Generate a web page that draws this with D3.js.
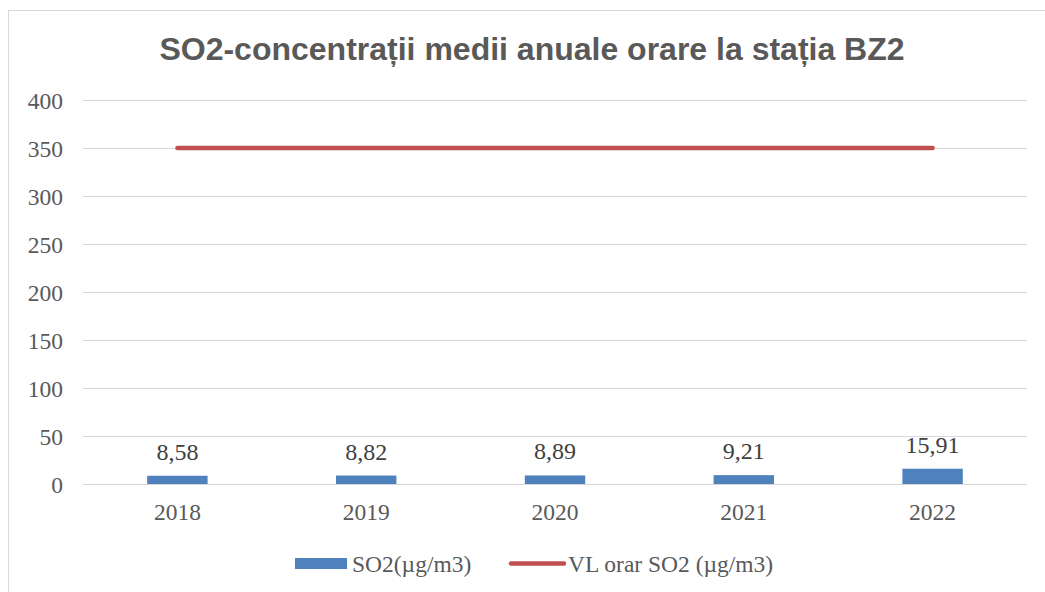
<!DOCTYPE html>
<html><head><meta charset="utf-8">
<script src="https://cdn.jsdelivr.net/npm/d3@7"></script>
<style>body{margin:0;background:#fff}</style>
</head><body>
<script>
const categories = ["2018","2019","2020","2021","2022"];
const so2Values = [8.58, 8.82, 8.89, 9.21, 15.91];
const vlValues = [350, 350, 350, 350, 350];
const yTicks = [0,50,100,150,200,250,300,350,400];
const seriesNames = ["SO2(µg/m3)", "VL orar SO2 (µg/m3)"];
const title = "SO2-concentrații medii anuale orare la stația BZ2";

const W = 1045, H = 592;
const serif = "Liberation Serif, Times New Roman, serif";
const svg = d3.select("body").append("svg").attr("width", W).attr("height", H);
svg.append("rect").attr("x", 8.5).attr("y", 10.5).attr("width", W).attr("height", H)
  .attr("fill", "#fff").attr("stroke", "#d9d9d9").attr("stroke-width", 1);

const m = {left: 83, right: 1027, top: 100, bottom: 484};
const x = d3.scaleBand().domain(categories).range([m.left, m.right]).paddingInner(0.68).paddingOuter(0.34);
const xc = d3.scalePoint().domain(categories).range([m.left, m.right]).padding(0.5);
const y = d3.scaleLinear().domain([0, 400]).range([m.bottom, m.top]);

svg.append("text").attr("x", 532).attr("y", 60).attr("text-anchor", "middle")
  .attr("font-family", "Liberation Sans, Arial, sans-serif").attr("font-weight", "bold")
  .attr("font-size", 32).attr("fill", "#595959").text(title);

const yAxis = d3.axisLeft(y).tickValues(yTicks).tickSize(-(m.right - m.left)).tickPadding(20);
const gy = svg.append("g").attr("transform", `translate(${m.left},0)`).call(yAxis);
gy.select(".domain").remove();
gy.selectAll(".tick line").attr("stroke", "#d9d9d9").attr("stroke-width", 1);
gy.selectAll(".tick text").attr("font-family", serif)
  .attr("font-size", 23.5).attr("fill", "#595959").attr("dy", "0.35em");

const xAxis = d3.axisBottom(x).tickSize(0).tickPadding(19);
const gx = svg.append("g").attr("transform", `translate(0,${m.bottom})`).call(xAxis);
gx.select(".domain").remove();
gx.selectAll(".tick text").attr("font-family", serif)
  .attr("font-size", 23.5).attr("fill", "#595959").attr("dy", "0.71em");

svg.selectAll("rect.bar").data(so2Values).enter().append("rect").attr("class", "bar")
  .attr("x", (d, i) => x(categories[i])).attr("width", x.bandwidth())
  .attr("y", d => y(d)).attr("height", d => y(0) - y(d)).attr("fill", "#4F81BD");

svg.selectAll("text.lbl").data(so2Values).enter().append("text").attr("class", "lbl")
  .attr("x", (d, i) => xc(categories[i])).attr("y", d => y(d) - 16)
  .attr("text-anchor", "middle").attr("font-family", serif)
  .attr("font-size", 24).attr("fill", "#404040")
  .text(d => d.toFixed(2).replace(".", ","));

const line = d3.line().x((d, i) => xc(categories[i])).y(d => y(d));
svg.append("path").datum(vlValues).attr("d", line).attr("fill", "none")
  .attr("stroke", "#C0504D").attr("stroke-width", 4.5).attr("stroke-linecap", "round");

// legend
const lg = svg.append("g");
lg.append("rect").attr("x", 295).attr("y", 558).attr("width", 52).attr("height", 11).attr("fill", "#4F81BD");
lg.append("text").attr("x", 352).attr("y", 572).attr("font-family", serif)
  .attr("font-size", 23.5).attr("fill", "#595959").text(seriesNames[0]);
lg.append("line").attr("x1", 511).attr("x2", 564).attr("y1", 563.5).attr("y2", 563.5)
  .attr("stroke", "#C0504D").attr("stroke-width", 4.5).attr("stroke-linecap", "round");
lg.append("text").attr("x", 568).attr("y", 572).attr("font-family", serif)
  .attr("font-size", 23.5).attr("fill", "#595959").text(seriesNames[1]);
</script>
</body></html>
